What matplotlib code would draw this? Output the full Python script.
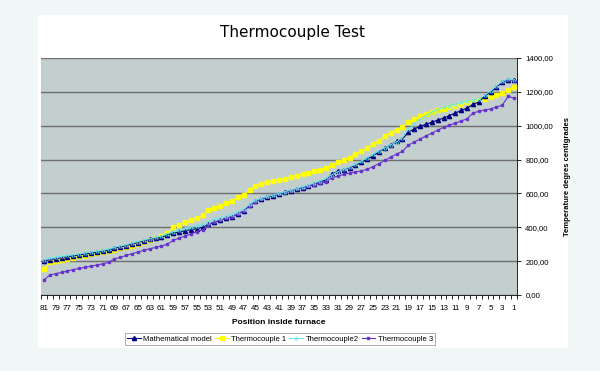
import numpy as np
import matplotlib
matplotlib.use("Agg")
import matplotlib.pyplot as plt
from matplotlib.patches import Rectangle
from matplotlib.ticker import FuncFormatter

plt.rcParams['font.family'] = ['Liberation Sans', 'DejaVu Sans']

# positions inside furnace, from 81 down to 1
positions = list(range(81, 0, -1))

math_model = [203, 208, 214, 220, 226, 231, 237, 242, 247, 252,
              257, 265, 276, 284, 292, 301, 310, 319, 329, 335,
              341, 355, 365, 372, 380, 386, 392, 400, 418, 430,
              442, 452, 463, 478, 497, 530, 556, 568, 578, 587,
              595, 606, 617, 626, 635, 645, 655, 667, 680, 714,
              730, 741, 753, 768, 783, 802, 822, 845, 868, 888,
              907, 921, 962, 980, 996, 1008, 1021, 1033, 1045, 1060,
              1075, 1090, 1104, 1126, 1140, 1175, 1199, 1228, 1258, 1272,
              1268]

thermo1 = [156, 193, 201, 206, 214, 221, 228, 233, 240, 246,
           252, 259, 267, 275, 282, 292, 303, 313, 323, 336,
           350, 366, 400, 414, 430, 442, 455, 470, 503, 516,
           528, 542, 556, 576, 592, 621, 643, 657, 666, 673,
           680, 688, 696, 705, 714, 722, 730, 736, 748, 768,
           783, 798, 812, 830, 848, 868, 890, 912, 937, 958,
           976, 990, 1021, 1040, 1055, 1068, 1079, 1090, 1100, 1109,
           1118, 1130, 1140, 1146, 1153, 1160, 1169, 1180, 1193, 1212,
           1228]

thermo2 = [208, 216, 222, 228, 234, 239, 244, 249, 254, 259,
           264, 272, 282, 290, 298, 307, 316, 325, 333, 340,
           348, 362, 375, 385, 394, 402, 410, 420, 434, 446,
           456, 466, 478, 492, 508, 535, 560, 572, 582, 591,
           600, 610, 620, 630, 640, 650, 662, 675, 690, 710,
           728, 742, 756, 772, 790, 812, 832, 852, 870, 888,
           905, 930, 980, 1010, 1040, 1060, 1080, 1095, 1108, 1118,
           1128, 1138, 1148, 1153, 1158, 1180, 1205, 1235, 1262, 1275,
           1270]

thermo3 = [89, 118, 126, 133, 142, 150, 157, 163, 170, 177,
           184, 192, 214, 222, 234, 244, 254, 264, 273, 281,
           290, 300, 323, 336, 348, 360, 374, 385, 416, 430,
           442, 452, 463, 480, 497, 526, 552, 570, 580, 590,
           598, 608, 616, 626, 634, 643, 651, 660, 670, 693,
           702, 712, 720, 727, 733, 743, 758, 776, 795, 814,
           833, 848, 885, 903, 921, 940, 956, 974, 990, 1004,
           1015, 1028, 1041, 1075, 1085, 1092, 1100, 1110, 1122, 1173,
           1163]

y_ticks = [0, 200, 400, 600, 800, 1000, 1200, 1400]


def main():
    fig = plt.figure(figsize=(6.0, 3.71), dpi=100, facecolor="#f1f6f6")
    fig.patches.append(Rectangle((38 / 600, 1 - 348 / 371), 530 / 600, 333 / 371,
                                 transform=fig.transFigure, facecolor="white",
                                 edgecolor="none", zorder=-10))
    ax = fig.add_axes([41 / 600, 1 - 295 / 371, 476 / 600, 237 / 371])
    ax.set_facecolor("#c3cfcf")

    x = np.arange(len(positions))
    ax.plot(x, math_model, color="#000080", lw=0.8, marker="^", ms=3.0,
            label="Mathematical model", zorder=4)
    ax.plot(x, thermo1, color="#ffff00", lw=0.8, marker="s", ms=3.5,
            label="Thermocouple 1", zorder=3)
    ax.plot(x, thermo2, color="#66e6e6", lw=0.7, marker="^", ms=2.2,
            mfc="none", mew=0.5, label="Thermocouple2", zorder=5)
    ax.plot(x, thermo3, color="#6633cc", lw=0.8, marker="s", ms=1.8,
            label="Thermocouple 3", zorder=4)

    ax.set_xlim(-0.5, len(positions) - 0.5)
    ax.set_ylim(0, 1400)

    # gridlines
    ax.set_yticks(y_ticks)
    ax.yaxis.grid(True, color="#6e6e6e", lw=1.0)
    ax.set_axisbelow(True)

    # y axis on the right
    ax.yaxis.tick_right()
    ax.yaxis.set_label_position("right")
    ax.yaxis.set_major_formatter(FuncFormatter(lambda v, p: f"{v:.2f}".replace(".", ",")))
    ax.tick_params(axis="y", labelsize=5.6, length=3, width=0.6, pad=3)
    ax.set_ylabel("Temperature degres centigrades", fontsize=5.6,
                  fontweight="bold", labelpad=8)

    # category x axis
    ax.set_xticks(x[::2])
    ax.set_xticklabels([str(p) for p in positions[::2]])
    ax.set_xticks(np.arange(-0.5, len(positions)), minor=True)
    ax.tick_params(axis="x", which="major", length=0, labelsize=5.8, pad=7)
    ax.tick_params(axis="x", which="minor", length=3, width=0.6)
    ax.set_xlabel("Position inside furnace", fontsize=6, fontweight="bold", labelpad=5)

    for side in ["left", "top"]:
        ax.spines[side].set_visible(False)
    ax.spines["right"].set_linewidth(0.6)
    ax.spines["bottom"].set_linewidth(0.6)

    fig.text(292 / 600, 1 - 32 / 371, "Thermocouple Test", ha="center",
             va="center", fontsize=11, family="DejaVu Sans")

    leg = fig.legend(loc="center", bbox_to_anchor=(280 / 600, 1 - 339 / 371),
                     ncol=4, fontsize=5.5, frameon=True, fancybox=False,
                     handlelength=1.8, handletextpad=0.3, columnspacing=0.4,
                     borderpad=0.3, borderaxespad=0)
    leg.get_frame().set_edgecolor("#888888")
    leg.get_frame().set_linewidth(0.6)

    fig.savefig("out.png", dpi=100, facecolor=fig.get_facecolor())


if __name__ == '__main__':
    main()
